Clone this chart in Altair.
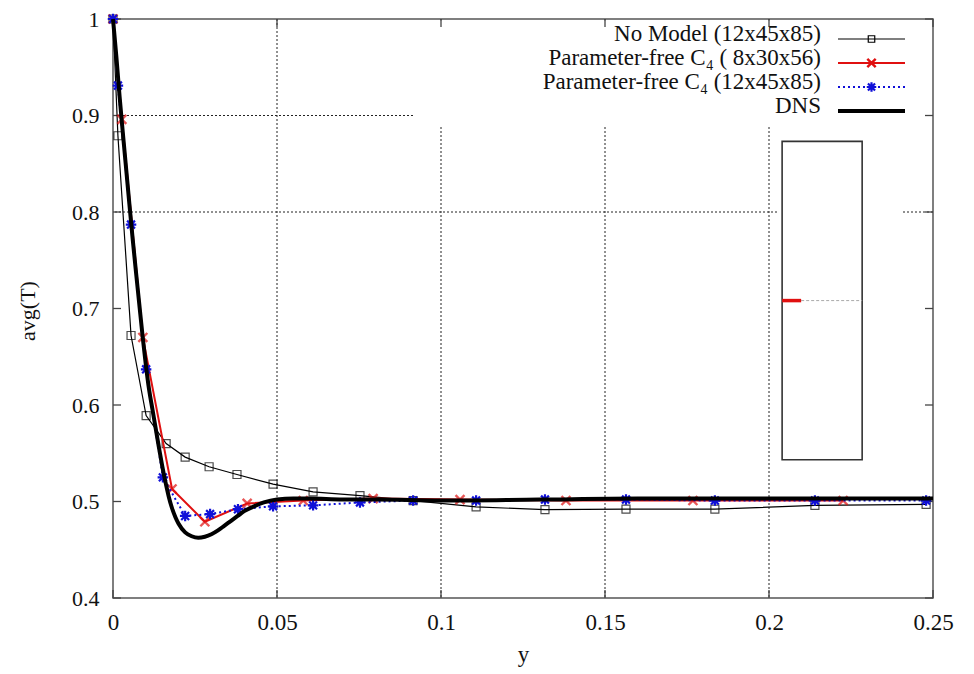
import altair as alt
import pandas as pd

# ---------------- data ----------------
nomodel_x = [0.0, 0.0015, 0.0055, 0.0101, 0.0162, 0.0220, 0.0293, 0.0378, 0.0488, 0.0610,
             0.0753, 0.0915, 0.1107, 0.1317, 0.1564, 0.1835, 0.2140, 0.2479]
nomodel_y = [1.000, 0.879, 0.672, 0.589, 0.560, 0.546, 0.536, 0.528, 0.518, 0.510,
             0.506, 0.501, 0.4945, 0.4915, 0.492, 0.492, 0.496, 0.497]

c4a_x = [0.0, 0.0027, 0.0091, 0.0180, 0.0280, 0.0409, 0.0580, 0.0793, 0.1058, 0.1381, 0.1768, 0.2226]
c4a_y = [1.000, 0.896, 0.670, 0.513, 0.479, 0.498, 0.501, 0.503, 0.502, 0.501, 0.501, 0.501]

c4b_x = [0.0, 0.0015, 0.0055, 0.0101, 0.0152, 0.0220, 0.0296, 0.0381, 0.0488, 0.0610,
         0.0753, 0.0915, 0.1107, 0.1317, 0.1564, 0.1835, 0.2140, 0.2479]
c4b_y = [1.000, 0.931, 0.787, 0.637, 0.525, 0.485, 0.487, 0.492, 0.495, 0.496,
         0.499, 0.501, 0.501, 0.502, 0.502, 0.501, 0.501, 0.501]

dns_x = [0.0, 0.001, 0.002, 0.003, 0.004, 0.005, 0.006, 0.007, 0.008, 0.009, 0.010, 0.011,
         0.012, 0.013, 0.014, 0.015, 0.016, 0.017, 0.018, 0.019, 0.020, 0.022, 0.024, 0.026,
         0.028, 0.030, 0.032, 0.034, 0.036, 0.038, 0.040, 0.043, 0.046, 0.050, 0.055, 0.060,
         0.070, 0.080, 0.100, 0.130, 0.160, 0.200, 0.250]
dns_y = [1.000, 0.962, 0.920, 0.882, 0.845, 0.808, 0.772, 0.738, 0.705, 0.672, 0.642, 0.616,
         0.596, 0.576, 0.556, 0.537, 0.520, 0.505, 0.493, 0.484, 0.477, 0.468, 0.464, 0.4625,
         0.4635, 0.466, 0.470, 0.475, 0.480, 0.485, 0.490, 0.495, 0.499, 0.502, 0.503, 0.503,
         0.502, 0.502, 0.501, 0.502, 0.503, 0.503, 0.503]

x_ticks = [0.0, 0.05, 0.1, 0.15, 0.2, 0.25]
y_ticks = [0.4, 0.5, 0.6, 0.7, 0.8, 0.9, 1.0]
x_grid = [0.05, 0.1, 0.15, 0.2]
y_grid = [0.8, 0.9]

# opaque areas of the original figure (key area and inset box area)
mask_x = [0.0915, 0.2030]
mask_x2 = [0.2495, 0.2405]
mask_y = [0.8887, 0.56]
mask_y2 = [0.9985, 0.88]

# inset box and its sample line
inset_x, inset_x2 = [0.2040], [0.2284]
inset_y, inset_y2 = [0.5433], [0.8732]
inset_red_x, inset_red_x2 = [0.2040], [0.2098]
inset_gray_x, inset_gray_x2 = [0.2098], [0.2284]
inset_line_y = [0.7082]

labels = ["No Model (12x45x85)", "Parameter-free C\u2084 ( 8x30x56)",
          "Parameter-free C\u2084 (12x45x85)", "DNS"]

# ---------------- styling ----------------
W, H = 820, 579
FONT = "Liberation Serif"
RED = "#e01010"
BLUE = "#1010d8"
BLACK = "#000000"
XMARK = "M-1,-1L1,1M-1,1L1,-1"
STAR = "M-1,0L1,0M0,-1L0,1M-0.75,-0.75L0.75,0.75M-0.75,0.75L0.75,-0.75"

xs = alt.Scale(domain=[0, 0.25], nice=False, zero=False)
ys = alt.Scale(domain=[0.4, 1.0], nice=False, zero=False)
xaxis = alt.Axis(values=x_ticks, labelExpr="datum.value + ''", ticks=False, domain=False,
                 grid=False, labelFlush=False, labelFont=FONT, labelFontSize=23, labelColor="#111",
                 labelPadding=13, title="y", titleFont=FONT, titleFontSize=23,
                 titleFontWeight="normal", titleColor="#111", titleX=W / 2, titleY=56,
                 titleBaseline="middle", titleAlign="center")
yaxis = alt.Axis(values=y_ticks, labelExpr="datum.value + ''", ticks=False, domain=False,
                 grid=False, labelFlush=False, labelFont=FONT, labelFontSize=22, labelColor="#111",
                 labelPadding=14, title="avg(T)", titleFont=FONT, titleFontSize=22,
                 titleFontWeight="normal", titleColor="#111", titleAngle=-90,
                 titleX=-86, titleY=H / 2 + 2, titleBaseline="middle", titleAlign="center")


def X(f):
    return alt.X(f, type="quantitative", scale=xs, axis=xaxis)


def Y(f):
    return alt.Y(f, type="quantitative", scale=ys, axis=yaxis)


layers = []

# grid lines
layers.append(alt.Chart(pd.DataFrame({"x": x_grid})).mark_rule(
    color="#222", strokeWidth=1, strokeDash=[2, 2]).encode(x=X("x")))
layers.append(alt.Chart(pd.DataFrame({"y": y_grid})).mark_rule(
    color="#222", strokeWidth=1, strokeDash=[2, 2]).encode(y=Y("y")))

# opaque masks
layers.append(alt.Chart(pd.DataFrame({"x": mask_x, "x2": mask_x2, "y": mask_y, "y2": mask_y2}))
              .mark_rect(color="white").encode(x=X("x"), x2="x2", y=Y("y"), y2="y2"))

# inward ticks on all four sides
tdx = pd.DataFrame({"x": x_ticks})
tdy = pd.DataFrame({"y": y_ticks})
tick_style = dict(color="#444", strokeWidth=1.3)
layers.append(alt.Chart(tdx).mark_rule(**tick_style).encode(x=X("x"), y=alt.value(H), y2=alt.value(H - 8)))
layers.append(alt.Chart(tdx).mark_rule(**tick_style).encode(x=X("x"), y=alt.value(0), y2=alt.value(8)))
layers.append(alt.Chart(tdy).mark_rule(**tick_style).encode(y=Y("y"), x=alt.value(0), x2=alt.value(8)))
layers.append(alt.Chart(tdy).mark_rule(**tick_style).encode(y=Y("y"), x=alt.value(W), x2=alt.value(W - 8)))

# inset box
layers.append(alt.Chart(pd.DataFrame({"x": inset_x, "x2": inset_x2, "y": inset_y, "y2": inset_y2}))
              .mark_rect(fill=None, filled=False, stroke="#333", strokeWidth=1.6)
              .encode(x=X("x"), x2="x2", y=Y("y"), y2="y2"))
layers.append(alt.Chart(pd.DataFrame({"x": inset_gray_x, "x2": inset_gray_x2, "y": inset_line_y}))
              .mark_rule(color="#aaa", strokeWidth=1, strokeDash=[3, 2])
              .encode(x=X("x"), x2="x2", y=Y("y")))
layers.append(alt.Chart(pd.DataFrame({"x": inset_red_x, "x2": inset_red_x2, "y": inset_line_y}))
              .mark_rule(color=RED, strokeWidth=3.5)
              .encode(x=X("x"), x2="x2", y=Y("y")))

# data series
d_nm = pd.DataFrame({"x": nomodel_x, "y": nomodel_y})
d_a = pd.DataFrame({"x": c4a_x, "y": c4a_y})
d_b = pd.DataFrame({"x": c4b_x, "y": c4b_y})
d_dns = pd.DataFrame({"x": dns_x, "y": dns_y})

layers.append(alt.Chart(d_nm).mark_line(color=BLACK, strokeWidth=1.2).encode(x=X("x"), y=Y("y"), order="x:Q"))
layers.append(alt.Chart(d_nm).mark_point(shape="square", filled=False, color=BLACK, size=64,
                                         strokeWidth=1.2).encode(x=X("x"), y=Y("y")))
layers.append(alt.Chart(d_a).mark_line(color=RED, strokeWidth=2).encode(x=X("x"), y=Y("y"), order="x:Q"))
layers.append(alt.Chart(d_a).mark_point(shape=XMARK, filled=False, color=RED, size=80,
                                        strokeWidth=2.4).encode(x=X("x"), y=Y("y")))
layers.append(alt.Chart(d_b).mark_line(color=BLUE, strokeWidth=2, strokeDash=[2, 3])
              .encode(x=X("x"), y=Y("y"), order="x:Q"))
layers.append(alt.Chart(d_b).mark_point(shape=STAR, filled=False, color=BLUE, size=110,
                                        strokeWidth=2.2, opacity=1).encode(x=X("x"), y=Y("y")))
layers.append(alt.Chart(d_dns).mark_line(color=BLACK, strokeWidth=4, interpolate="monotone")
              .encode(x=X("x"), y=Y("y"), order="x:Q"))

# legend (key), text left of the line samples as in the original
one = pd.DataFrame({"k": [0]})
styles = [
    dict(color=BLACK, width=1.2, dash=None, shape="square", size=42, sw=1.2),
    dict(color=RED, width=2, dash=None, shape=XMARK, size=70, sw=2.4),
    dict(color=BLUE, width=2, dash=[2, 3], shape=STAR, size=90, sw=2.2),
    dict(color=BLACK, width=4, dash=None, shape=None, size=0, sw=0),
]
for i, (lab, st) in enumerate(zip(labels, styles)):
    ly = 20 + i * 24
    layers.append(alt.Chart(one).mark_text(text=lab, align="right", baseline="alphabetic",
                                           font=FONT, fontSize=23, color="#111")
                  .encode(x=alt.value(708), y=alt.value(ly + 2)))
    rule_kw = dict(color=st["color"], strokeWidth=st["width"])
    if st["dash"]:
        rule_kw["strokeDash"] = st["dash"]
    layers.append(alt.Chart(one).mark_rule(**rule_kw)
                  .encode(x=alt.value(725), x2=alt.value(792), y=alt.value(ly)))
    if st["shape"]:
        layers.append(alt.Chart(one).mark_point(shape=st["shape"], filled=False, color=st["color"],
                                                size=st["size"], strokeWidth=st["sw"], opacity=1)
                      .encode(x=alt.value(758.5), y=alt.value(ly)))

chart = (
    alt.layer(*layers)
    .properties(width=W, height=H, autosize=alt.AutoSizeParams(type="none"),
                padding={"left": 105, "top": 11, "right": 30, "bottom": 70},
                background="white")
    .configure(font=FONT)
    .configure_view(stroke="#555", strokeWidth=1.5)
)

chart.save("out.html", embed_options={"renderer": "svg", "actions": False})
